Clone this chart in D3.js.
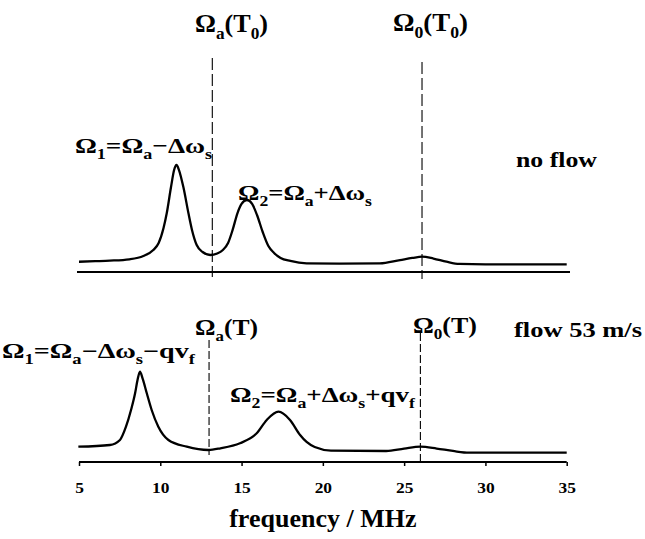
<!DOCTYPE html>
<html><head><meta charset="utf-8">
<script src="https://cdn.jsdelivr.net/npm/d3@7"></script>
</head><body style="margin:0;background:#fff">
<svg id="c" width="645" height="539"></svg>
<script>
// ---- data ----
const freqTicks = [5, 10, 15, 20, 25, 30, 35];
const noFlowFreq = [5.0, 6.0, 6.9, 8.1, 8.96, 9.57, 9.9, 10.2, 10.4, 10.66, 10.85, 11.0, 11.15, 11.42, 11.73, 11.95, 12.24, 12.6, 13.07, 13.5, 13.85, 14.17, 14.45, 14.75, 15.0, 15.33, 15.65, 15.95, 16.3, 16.65, 17.0, 17.4, 18.0, 19.0, 21.0, 23.5, 24.75, 25.5, 26.1, 26.8, 27.6, 28.4, 30, 35];
const noFlowAmp  = [9.6, 10.1, 10.6, 11.9, 15.0, 20.6, 27.1, 41.1, 55.1, 79.4, 95.3, 100, 95.3, 79.4, 55.1, 39.3, 25.2, 18.7, 15.9, 17.3, 20.6, 27.1, 39.3, 55.1, 63.6, 67.3, 63.6, 53.3, 37.4, 24.3, 17.8, 13.1, 10.3, 8.1, 7.9, 8.1, 11.2, 13.1, 14.3, 12.6, 9.6, 7.5, 7.2, 7.2];
const flowFreq = [4.96, 6.9, 7.52, 7.89, 8.2, 8.45, 8.6, 8.75, 8.92, 9.17, 9.47, 9.88, 10.5, 11.63, 12.96, 13.7, 14.9, 15.93, 16.55, 17.27, 17.98, 18.6, 19.0, 19.5, 20.5, 23.9, 25.0, 26.0, 27.0, 28.0, 29.0, 35];
const flowAmp  = [14.3, 15.9, 20.6, 33.0, 48.6, 64.2, 76.6, 84.4, 77.6, 64.2, 48.6, 33.0, 20.6, 14.3, 11.2, 12.8, 17.5, 26.8, 39.3, 47.0, 39.3, 25.2, 18.7, 14.0, 10.7, 10.3, 12.6, 14.3, 12.6, 10.3, 8.7, 8.7];
const noFlowMarkers = [13.2, 26.1];
const flowMarkers = [13.0, 26.0];

// ---- layout ----
const svg = d3.select("#c");
const x = d3.scaleLinear().domain([5, 35]).range([79, 566.7]);
const yTop = d3.scaleLinear().domain([0, 100]).range([272, 165]);
const yBot = d3.scaleLinear().domain([0, 100]).range([462, 355]);

function txt(sel, size) {
  return sel.style("font-family", "Liberation Serif").style("font-size", size + "px").style("font-weight", "bold").attr("fill", "#000");
}

const line = (ys) => d3.line().x(d => x(d[0])).y(d => ys(d[1])).curve(d3.curveMonotoneX);

// top baseline
svg.append("line").attr("x1", 77).attr("x2", 570).attr("y1", yTop(0)).attr("y2", yTop(0))
  .attr("stroke", "#000").attr("stroke-width", 2);

// dashed markers
const topDash = [[58, 277], [62, 279]];
noFlowMarkers.forEach((f, i) => {
  svg.append("line").attr("x1", x(f)).attr("x2", x(f)).attr("y1", topDash[i][0]).attr("y2", topDash[i][1])
    .attr("stroke", "#000").attr("stroke-width", 1.1).attr("stroke-dasharray", "12,4");
});
const botDash = [[340, 455], [333, 465]];
flowMarkers.forEach((f, i) => {
  svg.append("line").attr("x1", x(f)).attr("x2", x(f)).attr("y1", botDash[i][0]).attr("y2", botDash[i][1])
    .attr("stroke", "#000").attr("stroke-width", 1.1).attr("stroke-dasharray", "8,3");
});

// curves
svg.append("path").datum(d3.zip(noFlowFreq, noFlowAmp)).attr("d", line(yTop))
  .attr("fill", "none").attr("stroke", "#000").attr("stroke-width", 2.3);
svg.append("path").datum(d3.zip(flowFreq, flowAmp)).attr("d", line(yBot))
  .attr("fill", "none").attr("stroke", "#000").attr("stroke-width", 2.3);

// axis
const axis = d3.axisBottom(x).tickValues(freqTicks).tickSize(4).tickPadding(0).tickFormat(d3.format("d"));
const gA = svg.append("g").attr("transform", `translate(0,${yBot(0)})`).call(axis);
gA.attr("font-family", "Liberation Serif");
gA.select(".domain").attr("stroke-width", 2).attr("d", `M${x(5)},0H${x(35)}`);
gA.selectAll(".tick line").attr("stroke-width", 1.5);
txt(gA.selectAll(".tick text"), 15).attr("dy", null).attr("y", 31)
  .attr("transform", "scale(1.16,1)").attr("x", 0);

txt(svg.append("text"), 26).attr("x", (x(5) + x(35)) / 2).attr("y", 527).attr("text-anchor", "middle")
  .text("frequency / MHz");

// labels with subscripts: parts = [text, isSub]
function label(px, py, parts, size, len) {
  const t = txt(svg.append("text"), size).attr("x", px).attr("y", py);
  let sub = false;
  parts.forEach(([s, isSub]) => {
    const ts = t.append("tspan").text(s);
    if (isSub && !sub) { ts.attr("dy", size * 0.28).style("font-size", (size * 0.66) + "px"); sub = true; }
    else if (isSub && sub) { ts.style("font-size", (size * 0.66) + "px"); }
    else if (!isSub && sub) { ts.attr("dy", -size * 0.28); sub = false; }
  });
  if (len) t.attr("textLength", len).attr("lengthAdjust", "spacingAndGlyphs");
  return t;
}
label(195, 32, [["Ω"], ["a", 1], ["(T"], ["0", 1], [")"]], 25, 73);
label(393, 31, [["Ω"], ["0", 1], ["(T"], ["0", 1], [")"]], 25, 75);
label(75, 153, [["Ω"], ["1", 1], ["=Ω"], ["a", 1], ["−Δω"], ["s", 1]], 22, 137);
label(238, 200, [["Ω"], ["2", 1], ["=Ω"], ["a", 1], ["+Δω"], ["s", 1]], 22, 134);
label(195, 335, [["Ω"], ["a", 1], ["(T)"]], 23, 63);
label(413, 333, [["Ω"], ["0", 1], ["(T)"]], 23, 64);
label(2, 358, [["Ω"], ["1", 1], ["=Ω"], ["a", 1], ["−Δω"], ["s", 1], ["−qv"], ["f", 1]], 21, 193);
label(230, 402, [["Ω"], ["2", 1], ["=Ω"], ["a", 1], ["+Δω"], ["s", 1], ["+qv"], ["f", 1]], 21, 185);

txt(svg.append("text"), 22).attr("x", 516).attr("y", 167).attr("textLength", 81).attr("lengthAdjust", "spacingAndGlyphs").text("no flow");
txt(svg.append("text"), 22).attr("x", 514).attr("y", 337).attr("textLength", 128).attr("lengthAdjust", "spacingAndGlyphs").text("flow 53 m/s");
</script></body></html>
